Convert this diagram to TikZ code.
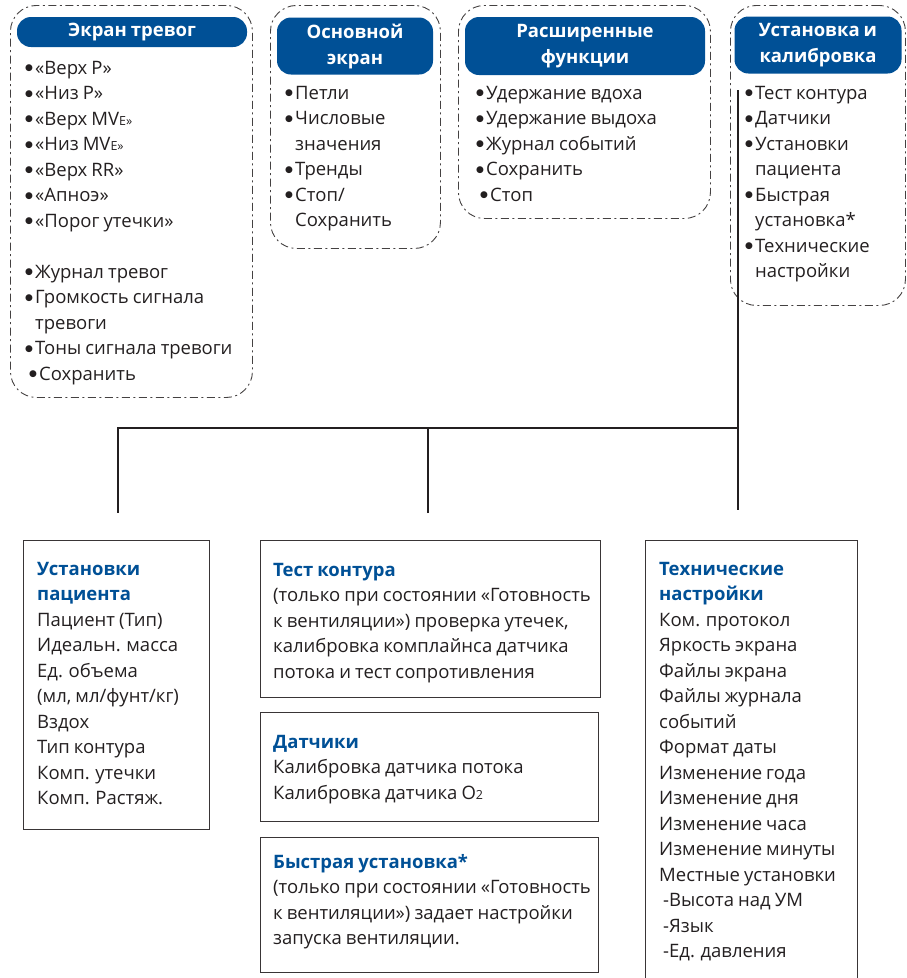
\documentclass[tikz,border=0pt]{standalone}
\usepackage{fontspec}
\setmainfont[WordSpace=0.85]{Open Sans}
\newfontfamily\dotfont{DejaVu Sans}
\usetikzlibrary{positioning}

\definecolor{hdrblue}{RGB}{0,80,150}
\definecolor{ink}{RGB}{35,31,32}
\newcommand{\bul}{\makebox[10pt][l]{\raisebox{3.2pt}{\dotfont\fontsize{9}{9}\selectfont ●}}}
\newcommand{\ind}{\hspace*{10pt}}
\newcommand{\smidx}[1]{{\fontsize{12.5}{12.5}\selectfont #1}}

\begin{document}
\begin{tikzpicture}
  [x=1pt,y=-1pt,
   groupbox/.style={draw=ink!85,line width=0.9pt,dash pattern=on 8pt off 3.5pt on 2pt off 3.5pt,
     rounded corners=26pt,anchor=north west,inner sep=0pt},
   header/.style={fill=hdrblue,rounded corners=14pt,text=white,align=center,inner sep=0pt,
     font=\fontsize{18.5}{26}\selectfont\bfseries},
   items/.style={anchor=base west,inner sep=0pt,align=left,text=ink,
     font=\fontsize{18.5}{25.5}\selectfont},
   infobox/.style={draw=ink!90,line width=1pt,anchor=north west,inner sep=0pt},
   link/.style={draw=ink,line width=1.6pt}]

  \useasboundingbox (0,0) rectangle (907,978);

  % upper menus (lists are placed by the baseline of their last line)
  \node (alarmgrp) [groupbox,minimum width=242pt,minimum height=392pt] at (10,5) {};
  \node (alarmhdr) [header,minimum width=230pt,minimum height=30pt] at (132,32) {Экран тревог};
  \node (alarmlist) [items] at (25,380) {\bul«Верх P»\\ \bul«Низ P»\\ \bul«Верх MV\smidx{E»}\\
    \bul«Низ MV\smidx{E»}\\ \bul«Верх RR»\\ \bul«Апноэ»\\ \bul«Порог утечки»\\[25.5pt]
    \bul Журнал тревог\\ \bul Громкость сигнала\\ \ind тревоги\\ \bul Тоны сигнала тревоги\\
    \hspace*{4pt}\bul Сохранить};

  \node (maingrp) [groupbox,minimum width=170pt,minimum height=243pt] at (270,5) {};
  \node (mainhdr) [header,minimum width=156pt,minimum height=57pt] at (355,46) {Основной\\экран};
  \node (mainlist) [items] at (285,226.5) {\bul Петли\\ \bul Числовые\\ \ind значения\\
    \bul Тренды\\ \bul Стоп/\\ \ind Сохранить};

  \node (advgrp) [groupbox,minimum width=252pt,minimum height=213pt] at (458,5) {};
  \node (advhdr) [header,minimum width=240pt,minimum height=58pt] at (585,46) {Расширенные\\функции};
  \node (advlist) [items] at (476,201) {\bul Удержание вдоха\\ \bul Удержание выдоха\\
    \bul Журнал событий\\ \bul Сохранить\\ \hspace*{4pt}\bul Стоп};

  \node (calgrp) [groupbox,minimum width=175pt,minimum height=300pt] at (730,5) {};
  \node (calhdr) [header,minimum width=167pt,minimum height=57pt] at (818,45) {Установка и\\калибровка};
  \node (callist) [items] at (745,277.5) {\bul Тест контура\\ \bul Датчики\\ \bul Установки\\
    \ind пациента\\ \bul Быстрая\\ \ind установка*\\ \bul Технические\\ \ind настройки};

  % tree
  \coordinate (trunktop) at (738,90);
  \coordinate (trunkbot) at (738,510);
  \coordinate (junction) at (738,428);
  \coordinate (leftdrop) at (118,513);
  \coordinate (middrop) at (428,513);
  \draw[link] (trunktop) -- (trunkbot);
  \draw[link] (junction) -| (leftdrop);
  \draw[link] (middrop) -- (middrop |- junction);

  % lower boxes
  \node (patbox) [infobox,minimum width=186pt,minimum height=289pt] at (23,540) {};
  \node (pattext) [items] at (37,804.5) {{\color{hdrblue}\bfseries Установки}\\
    {\color{hdrblue}\bfseries пациента}\\ Пациент (Тип)\\ Идеальн. масса\\ Ед. объема\\
    (мл, мл/фунт/кг)\\ Вздох\\ Тип контура\\ Комп. утечки\\ Комп. Растяж.};

  \node (testbox) [infobox,minimum width=340pt,minimum height=157pt] at (260,540) {};
  \node (testtext) [items] at (273,678) {{\color{hdrblue}\bfseries Тест контура}\\
    (только при состоянии «Готовность\\ к вентиляции») проверка утечек,\\
    калибровка комплайнса датчика\\ потока и тест сопротивления};

  \node (sensbox) [infobox,minimum width=338pt,minimum height=109pt] at (260,712) {};
  \node (senstext) [items] at (273,799) {{\color{hdrblue}\bfseries Датчики}\\
    Калибровка датчика потока\\ Калибровка датчика O\smidx{2}};

  \node (quickbox) [infobox,minimum width=338pt,minimum height=135pt] at (260,837) {};
  \node (quicktext) [items] at (273,944.5) {{\color{hdrblue}\bfseries Быстрая установка*}\\
    (только при состоянии «Готовность\\ к вентиляции») задает настройки\\
    запуска вентиляции.};

  \node (techbox) [infobox,minimum width=212pt,minimum height=460pt] at (645,540) {};
  \node (techtext) [items] at (659,957.5) {{\color{hdrblue}\bfseries Технические}\\
    {\color{hdrblue}\bfseries настройки}\\ Ком. протокол\\ Яркость экрана\\ Файлы экрана\\
    Файлы журнала\\ событий\\ Формат даты\\ Изменение года\\ Изменение дня\\
    Изменение часа\\ Изменение минуты\\ Местные установки\\ \hspace*{4pt}-Высота над УМ\\
    \hspace*{4pt}-Язык\\ \hspace*{4pt}-Ед. давления};
\end{tikzpicture}
\end{document}
